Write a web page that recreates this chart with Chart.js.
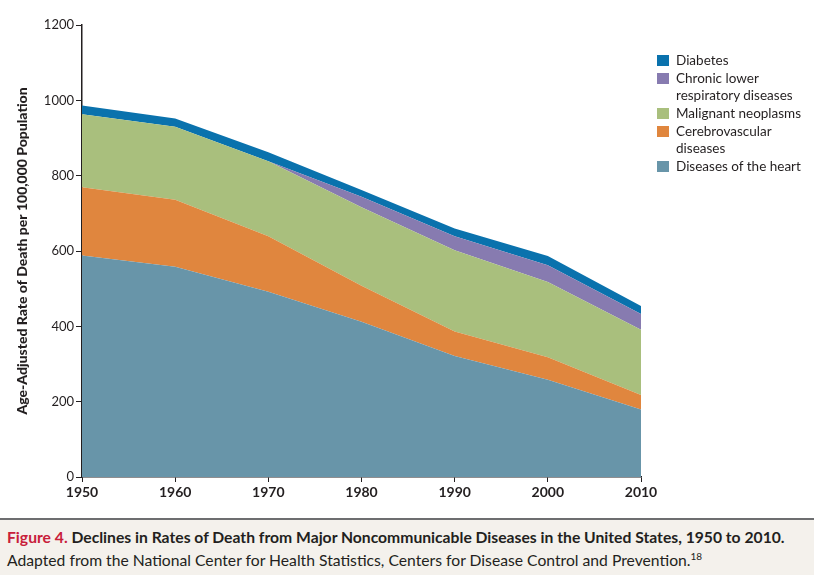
<!DOCTYPE html>
<html lang="en">
<head>
    <meta charset="UTF-8">
    <title>Declines in Rates of Death</title>
    <style>
        html, body {
            margin: 0;
            padding: 0;
            background: #fff;
        }
        body {
            width: 814px;
            height: 575px;
            position: relative;
            overflow: hidden;
            font-family: Lato, "Open Sans", sans-serif;
            color: #231f20;
        }
        #chartBox {
            position: absolute;
            left: 0;
            top: 0;
            width: 814px;
            height: 505px;
        }
        .legend {
            position: absolute;
            left: 657px;
            top: 52px;
            width: 157px;
            font-size: 13.5px;
            line-height: 17px;
        }
        .legend .item {
            position: relative;
            padding-left: 19px;
            margin-bottom: 1px;
        }
        .legend .swatch {
            position: absolute;
            left: 0;
            top: 3px;
            width: 12px;
            height: 11px;
        }
        .caption {
            position: absolute;
            left: 0;
            top: 518px;
            width: 814px;
            height: 57px;
            border-top: 2px solid #6d6e70;
            background: #f4f1ec;
            box-sizing: border-box;
            padding: 6px 0 0 7px;
        }
        .caption .l1 {
            font-weight: bold;
            font-size: 15.7px;
            line-height: 23px;
            white-space: nowrap;
        }
        .caption .l1 span {
            color: #c8203a;
        }
        .caption .l2 {
            font-size: 15.7px;
            line-height: 22px;
            white-space: nowrap;
        }
        .caption sup {
            font-size: 10px;
            line-height: 0;
        }
    </style>
    <script src="https://cdn.jsdelivr.net/npm/chart.js"></script>
</head>
<body>
    <div id="chartBox">
        <canvas id="deathChart" width="814" height="505"></canvas>
    </div>
    <div class="legend" id="legendBox"></div>
    <div class="caption">
        <div class="l1"><span>Figure 4.</span> Declines in Rates of Death from Major Noncommunicable Diseases in the United States, 1950 to 2010.</div>
        <div class="l2">Adapted from the National Center for Health Statistics, Centers for Disease Control and Prevention.<sup>18</sup></div>
    </div>

    <script>
        // age-adjusted rate per 100,000
        var years = [1950, 1960, 1970, 1980, 1990, 2000, 2010];
        var heart = [588, 558, 492, 412, 321, 258, 179];
        var cerebro = [181, 178, 147, 96, 65, 60, 39];
        var malignant = [194, 194, 199, 208, 216, 200, 173];
        var clrd = [0, 0, 0, 28, 37, 44, 42];
        var diabetes = [23, 22, 24, 18, 21, 25, 21];
        var yTicks = [0, 200, 400, 600, 800, 1000, 1200];

        var ink = '#231f20';

        function points(values) {
            return years.map(function (yr, i) { return { x: yr, y: values[i] }; });
        }

        function area(label, values, color, fill) {
            return {
                label: label,
                data: points(values),
                backgroundColor: color,
                borderColor: color,
                borderWidth: 0,
                pointRadius: 0,
                tension: 0,
                fill: fill
            };
        }

        var datasets = [
            area('Diseases of the heart', heart, '#6895a9', 'origin'),
            area('Cerebrovascular diseases', cerebro, '#e0863e', '-1'),
            area('Malignant neoplasms', malignant, '#a9bf7d', '-1'),
            area('Chronic lower respiratory diseases', clrd, '#877bb0', '-1'),
            area('Diabetes', diabetes, '#0a72ad', '-1')
        ];

        // legend lines as in the figure (top to bottom)
        var legendLines = {
            'Diabetes': 'Diabetes',
            'Chronic lower respiratory diseases': 'Chronic lower<br>respiratory diseases',
            'Malignant neoplasms': 'Malignant neoplasms',
            'Cerebrovascular diseases': 'Cerebrovascular<br>diseases',
            'Diseases of the heart': 'Diseases of the heart'
        };
        var legendBox = document.getElementById('legendBox');
        datasets.slice().reverse().forEach(function (ds) {
            var item = document.createElement('div');
            item.className = 'item';
            item.innerHTML = '<div class="swatch" style="background:' + ds.backgroundColor + '"></div>' + legendLines[ds.label];
            legendBox.appendChild(item);
        });

        new Chart(document.getElementById('deathChart'), {
            type: 'line',
            data: { datasets: datasets },
            options: {
                responsive: false,
                animation: false,
                devicePixelRatio: 1,
                layout: { padding: { top: 25, right: 173, left: 0, bottom: 0 } },
                plugins: {
                    legend: { display: false },
                    tooltip: { enabled: false }
                },
                scales: {
                    x: {
                        type: 'linear',
                        min: 1950,
                        max: 2010,
                        afterBuildTicks: function (s) {
                            s.ticks = years.map(function (v) { return { value: v }; });
                        },
                        ticks: {
                            color: ink,
                            font: { family: 'Lato', size: 14, weight: 'bold' },
                            padding: 2,
                            maxRotation: 0,
                            callback: function (v) { return String(v); }
                        },
                        grid: {
                            drawOnChartArea: false,
                            drawTicks: true,
                            tickLength: 5,
                            color: ink
                        },
                        border: { color: ink, width: 1.5 },
                        afterFit: function (s) { s.height = 28; }
                    },
                    y: {
                        stacked: true,
                        min: 0,
                        max: 1200,
                        afterBuildTicks: function (s) {
                            s.ticks = yTicks.map(function (v) { return { value: v }; });
                        },
                        ticks: {
                            color: ink,
                            font: { family: 'Lato', size: 13 },
                            padding: 2,
                            callback: function (v) { return String(v); }
                        },
                        grid: {
                            drawOnChartArea: false,
                            drawTicks: true,
                            tickLength: 6,
                            color: ink
                        },
                        border: { color: ink, width: 1.5 },
                        title: {
                            display: true,
                            text: 'Age-Adjusted Rate of Death per 100,000 Population',
                            color: ink,
                            font: { family: 'Lato', size: 14, weight: '900' },
                            padding: { top: 14, bottom: 0 }
                        },
                        afterFit: function (s) { s.width = 82; }
                    }
                }
            }
        });
    </script>
</body>
</html>
